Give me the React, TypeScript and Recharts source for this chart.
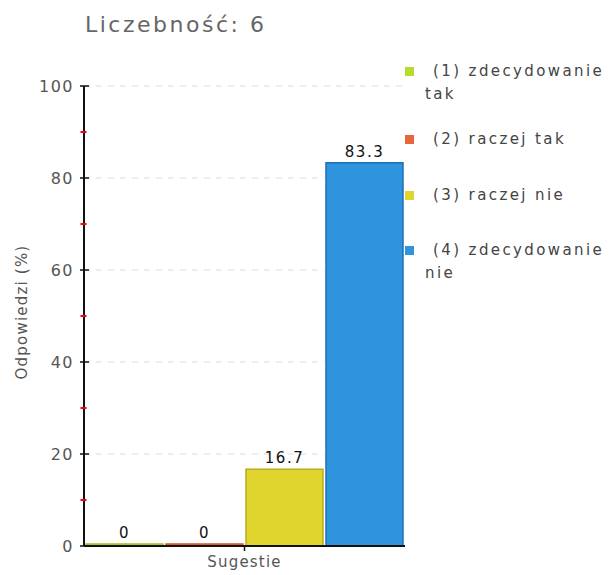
import React from 'react';
import { BarChart, Bar, XAxis, YAxis, CartesianGrid, Legend, LabelList } from 'recharts';

const categories = ['Sugestie'];
const seriesKeys = ['s1', 's2', 's3', 's4'];
const seriesNames = ['(1) zdecydowanie tak', '(2) raczej tak', '(3) raczej nie', '(4) zdecydowanie nie'];
const seriesValues = [0, 0, 16.7, 83.3];
const seriesFill = ['#b5dc2c', '#e8643a', '#e0d42e', '#2f94de'];
const seriesStroke = ['#9cc21e', '#d8502a', '#b8ab1c', '#1f6fb8'];
const yTicks = [0, 10, 20, 30, 40, 50, 60, 70, 80, 90, 100];
const gridValues = [20, 40, 60, 80, 100];
const titleText = 'Liczebność: 6';
const yLabel = 'Odpowiedzi (%)';

const data = categories.map((name) => {
  const row: Record<string, any> = { name };
  seriesKeys.forEach((k, i) => (row[k] = seriesValues[i]));
  return row;
});

const FONT = '"DejaVu Sans", Verdana, sans-serif';

const YTick = (props: any) => {
  const { x, y, payload } = props;
  const v = payload.value as number;
  if (v % 20 !== 0) {
    return <line x1={x - 3.5} x2={x + 2.5} y1={y} y2={y} stroke="#ff0000" strokeWidth={2} />;
  }
  return (
    <g>
      <line x1={x - 4} x2={x + 5} y1={y} y2={y} stroke="#111" strokeWidth={1.5} />
      <text x={x - 10} y={y} dy="0.36em" textAnchor="end" fill="#555" fontSize={16} fontFamily={FONT} letterSpacing={1.5}>
        {v}
      </text>
    </g>
  );
};

const LegendContent = () => {
  const gaps = [0, 22, 33, 32];
  return (
    <div style={{ fontFamily: FONT, fontSize: 15, color: '#444', letterSpacing: 2.4 }}>
      {seriesNames.map((n, i) => (
        <div key={n} style={{ position: 'relative', marginTop: gaps[i], lineHeight: '23px' }}>
          <div style={{ position: 'absolute', left: 0, top: 7, width: 9, height: 9, background: seriesFill[i] }} />
          <div style={{ marginLeft: 20, textIndent: 8 }}>{n}</div>
        </div>
      ))}
    </div>
  );
};

export default function App() {
  return (
    <div style={{ position: 'absolute', left: 0, top: 0, width: 611, height: 575, background: '#fff' }}>
      <div
        style={{
          position: 'absolute',
          left: 85,
          top: 12,
          fontFamily: FONT,
          fontSize: 22,
          color: '#666',
          letterSpacing: 2.5,
          whiteSpace: 'pre',
        }}
      >
        {titleText}
      </div>
      <BarChart
        width={611}
        height={575}
        data={data}
        margin={{ top: 86, right: 0, bottom: 0, left: 0 }}
        barCategoryGap={2}
        barGap={3}
      >
        <CartesianGrid vertical={false} horizontalValues={gridValues} stroke="#dddddd" strokeDasharray="6 6" />
        <XAxis
          dataKey="name"
          height={29}
          axisLine={{ stroke: '#111', strokeWidth: 2 }}
          tickLine={{ stroke: '#111', strokeWidth: 1.5 }}
          tickSize={5}
          tickMargin={5}
          tick={{ fill: '#555', fontSize: 15, fontFamily: FONT, letterSpacing: 1.2 }}
        />
        <YAxis
          width={84}
          domain={[0, 100]}
          ticks={yTicks}
          interval={0}
          tickSize={0}
          tickMargin={0}
          tickLine={false}
          axisLine={{ stroke: '#111', strokeWidth: 2 }}
          tick={<YTick />}
          label={{
            content: (p: any) => {
              const vb = p.viewBox || { x: 0, y: 86, width: 84, height: 460 };
              const cx = 22;
              const cy = vb.y + vb.height / 2 - 4;
              return (
                <text
                  x={cx}
                  y={cy}
                  transform={`rotate(-90 ${cx} ${cy})`}
                  textAnchor="middle"
                  dominantBaseline="central"
                  fill="#555"
                  fontSize={15}
                  fontFamily={FONT}
                  letterSpacing={1.2}
                >
                  {yLabel}
                </text>
              );
            },
          }}
        />
        <Legend
          layout="vertical"
          verticalAlign="top"
          align="right"
          content={<LegendContent />}
          wrapperStyle={{ position: 'absolute', left: 405, top: 60, width: 206 }}
        />
        {seriesKeys.map((k, i) => (
          <Bar
            key={k}
            dataKey={k}
            name={seriesNames[i]}
            fill={seriesFill[i]}
            stroke={seriesStroke[i]}
            strokeWidth={1.5}
            minPointSize={2}
            isAnimationActive={false}
          >
            <LabelList
              dataKey={k}
              position="top"
              offset={6}
              fill="#111"
              fontSize={15}
              fontFamily={FONT}
              letterSpacing={1.5}
            />
          </Bar>
        ))}
      </BarChart>
    </div>
  );
}
